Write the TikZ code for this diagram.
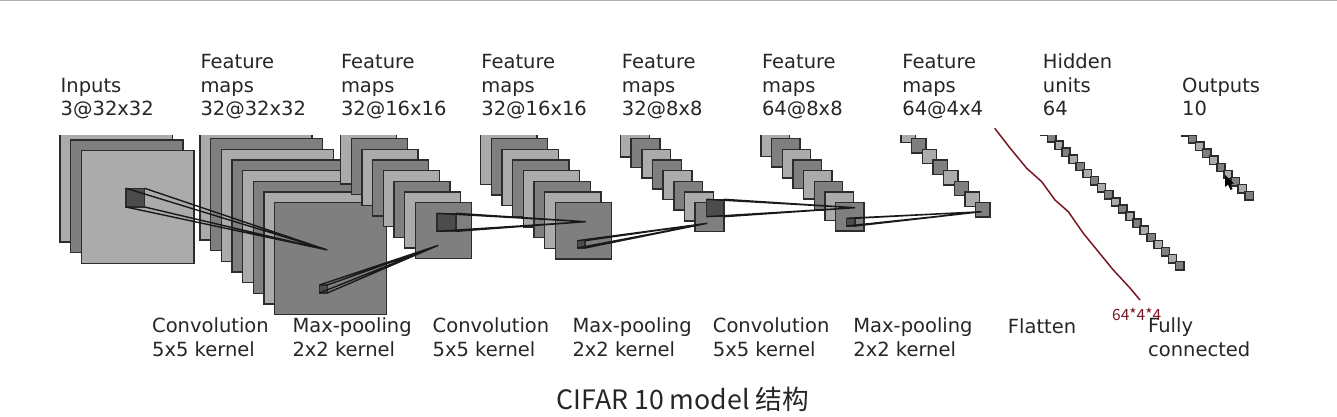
\documentclass[tikz,border=0pt]{standalone}
\usepackage{fontspec}
\setmainfont{DejaVu Sans}
\newfontfamily\cjk{Noto Sans CJK SC}
\definecolor{fmlight}{HTML}{ABABAB}
\definecolor{fmdark}{HTML}{7F7F7F}
\definecolor{fmpatch}{HTML}{4C4C4C}
\definecolor{edgegray}{HTML}{2C2C2C}
\definecolor{inkred}{HTML}{7A1626}
\definecolor{labelink}{HTML}{262626}

% front x, front y, size, layers, step
\newcommand{\fmstack}[5]{
    \foreach \i in {1,...,#4} {
        \pgfmathtruncatemacro{\k}{mod(\i,2)}
        \pgfmathsetmacro{\off}{(\i-#4)*#5}
        \draw[fm\k] ({#1+\off},{#2+\off}) rectangle ++(#3,#3);
    }
}
% name, corner, far corner of patch, target
\newcommand{\fmconn}[7]{
    \coordinate (#1a) at (#2,#3);
    \coordinate (#1b) at (#4,#3);
    \coordinate (#1c) at (#4,#5);
    \coordinate (#1d) at (#2,#5);
    \coordinate (#1e) at (#6,#7);
    \draw[fmp] (#1a) rectangle (#1c);
    \draw[ln] (#1a) -- (#1e) (#1b) -- (#1e) (#1c) -- (#1e) (#1d) -- (#1e);
}

\begin{document}
\begin{tikzpicture}[
        x=1pt, y=-1pt,
        fm0/.style={draw=edgegray, fill=fmdark, line width=1.5pt},
        fm1/.style={draw=edgegray, fill=fmlight, line width=1.5pt},
        fmp/.style={draw=edgegray, fill=fmpatch, line width=1.5pt},
        ln/.style={draw=black!90, line width=1.4pt},
        lab/.style={anchor=base west, inner sep=0pt, align=left, text=labelink,
            font=\fontsize{19.5}{23.6}\selectfont},
    ]
    \useasboundingbox (0,0) rectangle (1337,417);
    \fill[white] (0,0) rectangle (1337,417);
    \draw[gray!60, line width=1.5pt] (0,0.5) -- (1337,0.5);

    \begin{scope}
        \clip (0,135.5) rectangle (1337,417);
        \fmstack{81.3}{150.7}{112.6}{3}{10.67}
        \fmstack{274.7}{202.7}{112}{8}{10.67}
        \fmstack{415.3}{202.7}{56}{8}{10.67}
        \fmstack{555.3}{202.7}{56.3}{8}{10.67}
        \fmstack{695.2}{202.7}{28.8}{8}{10.67}
        \fmstack{835.6}{202.7}{28.4}{8}{10.67}
        \fmstack{975.7}{202.7}{14.3}{8}{10.67}
        \fmstack{1175.5}{261.7}{8.3}{20}{7.1}
        \fmstack{1245.2}{191.7}{8.3}{10}{7.1}
    \end{scope}

    \fmconn{ca}{126}{188.3}{144.7}{207}{327.3}{250}
    \fmconn{cb}{319.5}{285}{327.3}{293}{438.3}{245.3}
    \fmconn{cc}{437}{213.3}{456}{231.3}{586}{221.7}
    \fmconn{cd}{577.3}{240.7}{585}{248}{707.3}{223.3}
    \fmconn{ce}{706.7}{199.3}{724}{216.7}{855}{207.7}
    \fmconn{cf}{846.7}{218.3}{855}{226}{981.7}{211.7}

    % top row
    \node[lab] (inputs) at (60.5,116) {Inputs\\3@32x32};
    \node[lab] (fma) at (200.3,116) {Feature\\maps\\32@32x32};
    \node[lab] (fmb) at (340.8,116) {Feature\\maps\\32@16x16};
    \node[lab] (fmc) at (481.2,116) {Feature\\maps\\32@16x16};
    \node[lab] (fmd) at (621.7,116) {Feature\\maps\\32@8x8};
    \node[lab] (fme) at (761.8,116) {Feature\\maps\\64@8x8};
    \node[lab] (fmf) at (902.2,116) {Feature\\maps\\64@4x4};
    \node[lab] (hidden) at (1042.7,116) {Hidden\\units\\64};
    \node[lab] (outputs) at (1182,116) {Outputs\\10};

    % bottom row
    \node[lab] (opa) at (152,356.5) {Convolution\\5x5 kernel};
    \node[lab] (opb) at (292.3,356.5) {Max-pooling\\2x2 kernel};
    \node[lab] (opc) at (432.5,356.5) {Convolution\\5x5 kernel};
    \node[lab] (opd) at (572.3,356.5) {Max-pooling\\2x2 kernel};
    \node[lab] (ope) at (712.7,356.5) {Convolution\\5x5 kernel};
    \node[lab] (opf) at (853.2,356.5) {Max-pooling\\2x2 kernel};
    \node[lab] (flatten) at (1007.7,333.5) {Flatten};
    \node[lab] (fully) at (1148,356.5) {Fully\\connected};

    % handwritten note
    \draw[inkred, line width=1.5pt, line join=round] (994.7,128.3) -- (1010,148) -- (1026.7,168.3)
        -- (1041.7,181.7) -- (1055,200) -- (1068.3,211.7) -- (1083.3,233.3)
        -- (1113.3,270) -- (1130,288) -- (1140,300);
    \node[anchor=base west, inner sep=0pt, text=inkred, font=\cjk\fontsize{15.5}{18}\selectfont]
        (note) at (1112,320) {64*4*4};

    \node[anchor=base, inner sep=0pt, text=labelink, font=\cjk\fontsize{26.7}{30}\selectfont]
        (caption) at (682.8,409) {CIFAR 10 model 结构};

    % mouse pointer
    \fill[black] (1225,175) -- (1225,187) -- (1228,184.5) -- (1230.5,190) -- (1232.5,189)
        -- (1230,184) -- (1234,183.5) -- cycle;
\end{tikzpicture}
\end{document}
